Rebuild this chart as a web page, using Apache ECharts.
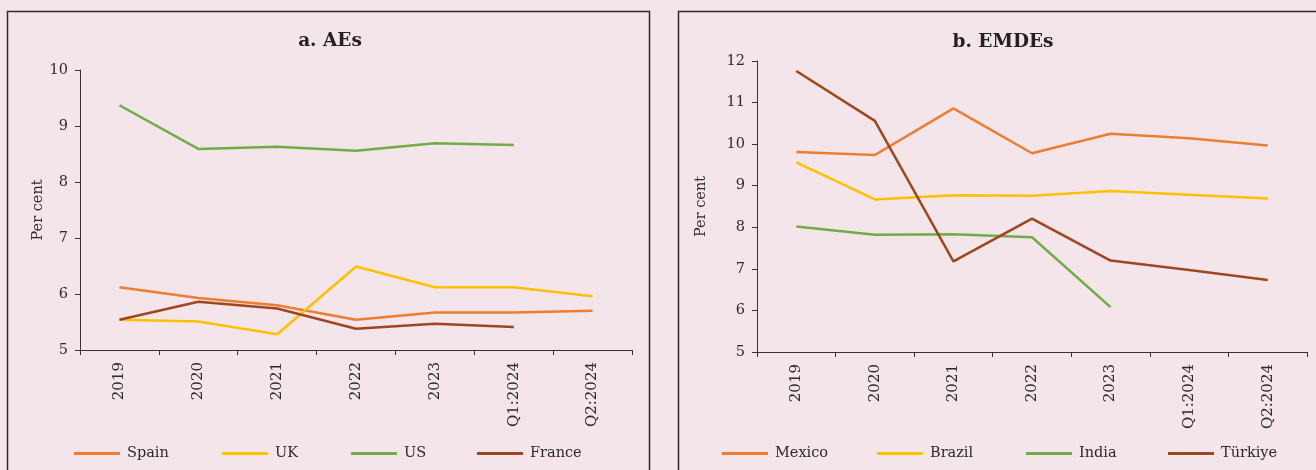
<!DOCTYPE html>
<html>
<head>
<meta charset="utf-8">
<script src="https://cdn.jsdelivr.net/npm/echarts@6/dist/echarts.min.js"></script>
<style>
html,body{margin:0;padding:0;background:#f3e5ea;}
#c{width:1316px;height:470px;}
</style>
</head>
<body>
<div id="c"></div>
<script>
const categories = ['2019','2020','2021','2022','2023','Q1:2024','Q2:2024'];
// Panel a: AEs
const spain  = [6.12, 5.93, 5.80, 5.54, 5.67, 5.67, 5.70];
const uk     = [5.54, 5.51, 5.28, 6.49, 6.12, 6.12, 5.96];
const us     = [9.37, 8.59, 8.63, 8.56, 8.69, 8.66, null];
const france = [5.54, 5.86, 5.74, 5.38, 5.47, 5.41, null];
// Panel b: EMDEs
const mexico  = [9.81, 9.74, 10.86, 9.78, 10.25, 10.14, 9.97];
const brazil  = [9.56, 8.67, 8.77, 8.76, 8.87, 8.78, 8.69];
const india   = [8.02, 7.82, 7.83, 7.76, 6.08, null, null];
const turkiye = [11.76, 10.56, 7.18, 8.21, 7.20, 6.97, 6.73];
const leftTicks = [5, 10];   // min, max
const rightTicks = [5, 12];  // min, max

const FONT = 'DejaVu Serif';
const TXT = '#2b2b2b';
const C_OR = '#ED7D31', C_YE = '#FFC000', C_GR = '#70AD47', C_BR = '#A0461E';

function xAxis(gi){
  return {
    type:'category', gridIndex:gi, data:categories, boundaryGap:true,
    axisLine:{lineStyle:{color:'#333',width:1}},
    axisTick:{show:true,length:5,lineStyle:{color:'#333'}},
    axisLabel:{rotate:90,margin:12,color:TXT,fontFamily:FONT,fontSize:15}
  };
}
function yAxis(gi,mm,gap){
  return {
    type:'value', gridIndex:gi, min:mm[0], max:mm[1], interval:1,
    name:'Per cent', nameLocation:'middle', nameRotate:90, nameGap:gap,
    nameTextStyle:{color:TXT,fontFamily:FONT,fontSize:14.5},
    axisLine:{show:true,lineStyle:{color:'#333',width:1}},
    axisTick:{show:true,length:5,lineStyle:{color:'#333'}},
    splitLine:{show:false},
    axisLabel:{margin:12,color:TXT,fontFamily:FONT,fontSize:14.5}
  };
}
function line(name,data,color,gi){
  return {name, type:'line', data, xAxisIndex:gi, yAxisIndex:gi, symbol:'none',
    connectNulls:false, lineStyle:{color,width:2.5}, itemStyle:{color}};
}
function leg(name,left){
  return {data:[name], left, top:446, padding:0, icon:'rect', itemWidth:46, itemHeight:3,
    itemGap:0, selectedMode:false, textStyle:{color:TXT,fontFamily:FONT,fontSize:14.5,padding:[0,0,0,2]}};
}

const chart = echarts.init(document.getElementById('c'), null, {renderer:'canvas'});
chart.setOption({
  animation:false,
  backgroundColor:'#f3e5ea',
  title:[
    {text:'a. AEs', left:325, top:27, textAlign:'center',
     textStyle:{fontFamily:FONT,fontWeight:'bold',fontSize:18.5,color:'#222'}},
    {text:'b. EMDEs', left:998, top:28, textAlign:'center',
     textStyle:{fontFamily:FONT,fontWeight:'bold',fontSize:18.5,color:'#222'}}
  ],
  graphic:[
    {type:'rect', shape:{x:7.5,y:11.5,width:642,height:480}, style:{fill:null,stroke:'#2a2a2a',lineWidth:1.5}, silent:true},
    {type:'rect', shape:{x:678.5,y:11.5,width:660,height:480}, style:{fill:null,stroke:'#2a2a2a',lineWidth:1.5}, silent:true}
  ],
  grid:[
    {left:80, right:1316-632, top:70, bottom:470-350},
    {left:757, right:1316-1307, top:61, bottom:470-352}
  ],
  xAxis:[xAxis(0), xAxis(1)],
  yAxis:[yAxis(0,leftTicks,31), yAxis(1,rightTicks,48)],
  legend:[
    leg('Spain',74), leg('UK',222), leg('US',351), leg('France',477),
    leg('Mexico',722), leg('Brazil',877), leg('India',1026), leg('Türkiye',1168)
  ],
  series:[
    line('Spain',spain,C_OR,0),
    line('UK',uk,C_YE,0),
    line('US',us,C_GR,0),
    line('France',france,C_BR,0),
    line('Mexico',mexico,C_OR,1),
    line('Brazil',brazil,C_YE,1),
    line('India',india,C_GR,1),
    line('Türkiye',turkiye,C_BR,1)
  ]
});
</script>
</body>
</html>
